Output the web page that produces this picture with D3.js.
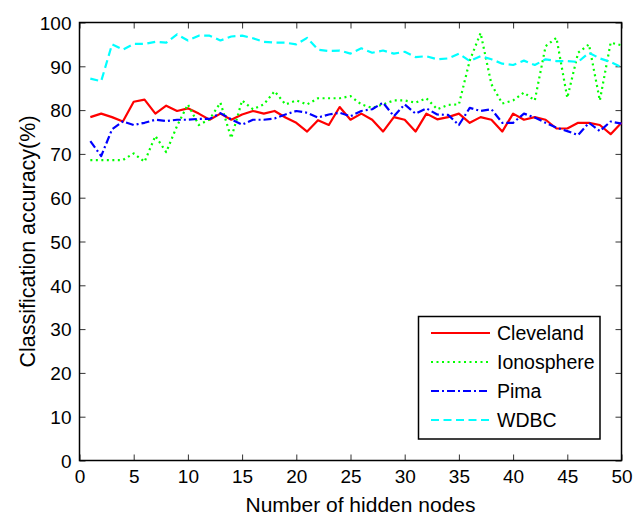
<!DOCTYPE html>
<html>
<head>
<meta charset="utf-8">
<script src="https://cdn.jsdelivr.net/npm/d3@7/dist/d3.min.js"></script>
<style>
  html, body { margin: 0; padding: 0; background: #fff; }
  svg { display: block; font-family: "Liberation Sans", Arial, sans-serif; }
</style>
</head>
<body>
<svg id="chart" width="644" height="517"></svg>
<script>
// ─── data ──────────────────────────────────────────────────────
const nodes = d3.range(1, 51);

const cleveland = [78.4, 79.2, 78.4, 77.4, 81.9, 82.4, 79.2, 81.0, 79.8, 80.4,
  79.2, 77.8, 79.2, 77.8, 79.0, 79.8, 79.2, 79.8, 78.3, 77.1,
  75.1, 77.7, 76.6, 80.7, 77.8, 79.2, 77.8, 75.1, 78.4, 77.8,
  75.1, 79.2, 77.9, 78.4, 79.2, 77.1, 78.4, 77.8, 75.1, 79.2,
  77.8, 78.4, 77.8, 75.8, 75.8, 77.1, 77.1, 76.6, 74.5, 77.1];

const ionosphere = [68.6, 68.6, 68.6, 68.6, 70.1, 68.2, 74.1, 70.4, 76.4, 81.3,
  76.6, 77.9, 81.7, 73.6, 82.2, 80.2, 81.3, 84.3, 81.3, 82.2,
  81.3, 82.7, 82.7, 82.7, 83.2, 81.3, 80.5, 81.3, 82.2, 82.2,
  81.7, 82.7, 80.2, 81.2, 81.3, 91.3, 97.6, 85.9, 81.5, 82.2,
  84.0, 82.2, 94.6, 96.5, 82.8, 93.1, 95.0, 82.2, 95.4, 94.8];

const pima = [72.9, 69.5, 75.6, 77.4, 76.6, 77.1, 77.8, 77.5, 77.8, 77.8,
  78.0, 78.0, 79.3, 77.9, 76.7, 77.8, 77.8, 78.1, 79.0, 79.8,
  79.4, 78.3, 79.0, 79.4, 78.6, 79.8, 80.2, 81.7, 78.6, 81.3,
  79.2, 80.4, 79.0, 78.9, 76.6, 80.5, 79.8, 80.2, 77.1, 77.1,
  79.2, 78.3, 77.1, 76.0, 75.2, 74.3, 77.1, 75.2, 77.4, 76.9];

const wdbc = [87.2, 86.6, 95.0, 93.8, 95.1, 95.1, 95.6, 95.4, 97.3, 95.9,
  97.0, 97.0, 95.9, 96.8, 97.0, 96.4, 95.6, 95.4, 95.4, 95.0,
  96.5, 93.8, 93.5, 93.6, 92.9, 94.1, 93.1, 93.6, 92.9, 93.3,
  92.1, 92.3, 91.6, 91.8, 92.9, 91.2, 92.3, 91.6, 90.6, 90.3,
  91.3, 90.3, 91.6, 91.2, 91.2, 91.0, 93.1, 91.8, 91.0, 89.8];

const seriesNames = ['Cleveland', 'Ionosphere', 'Pima', 'WDBC'];
const xTicks = d3.range(0, 51, 5);
const yTicks = d3.range(0, 101, 10);

// line styles per series
const styles = {
  Cleveland:  { color: '#ff0000', dash: null },
  Ionosphere: { color: '#00ff00', dash: '2,3.5' },
  Pima:       { color: '#0000ff', dash: '8,3,2,3' },
  WDBC:       { color: '#00ffff', dash: '8,4.5' }
};

const series = [
  { name: 'Cleveland', values: cleveland },
  { name: 'Ionosphere', values: ionosphere },
  { name: 'Pima', values: pima },
  { name: 'WDBC', values: wdbc }
];

// ─── layout ────────────────────────────────────────────────────
const margin = { left: 79.5, top: 22.5, right: 644 - 621.5, bottom: 517 - 460.5 };
const W = 644, H = 517;
const svg = d3.select('#chart');

const x = d3.scaleLinear().domain([0, 50]).range([margin.left, W - margin.right]);
const y = d3.scaleLinear().domain([0, 100]).range([H - margin.bottom, margin.top]);

// axes (ticks inward, mirrored on top/right like matlab)
const tickLen = 6;
const fontSize = 19;

const gx = svg.append('g').attr('transform', `translate(0,${y(0)})`)
  .call(d3.axisBottom(x).tickValues(xTicks).tickSize(-tickLen).tickPadding(9).tickFormat(d3.format('d')));
const gxTop = svg.append('g').attr('transform', `translate(0,${y(100)})`)
  .call(d3.axisTop(x).tickValues(xTicks).tickSize(-tickLen).tickFormat(''));
const gy = svg.append('g').attr('transform', `translate(${x(0)},0)`)
  .call(d3.axisLeft(y).tickValues(yTicks).tickSize(-tickLen).tickPadding(8).tickFormat(d3.format('d')));
const gyRight = svg.append('g').attr('transform', `translate(${x(50)},0)`)
  .call(d3.axisRight(y).tickValues(yTicks).tickSize(-tickLen).tickFormat(''));

[gx, gxTop, gy, gyRight].forEach(g => {
  g.select('.domain').remove();
  g.selectAll('.tick line').attr('stroke', '#333').attr('stroke-width', 1);
  g.selectAll('.tick text').attr('fill', '#000').style('font-size', fontSize + 'px')
    .style('font-family', '"Liberation Sans", Arial, sans-serif');
});
gy.selectAll('.tick text').attr('dy', '0.36em');

// frame
svg.append('rect')
  .attr('x', x(0)).attr('y', y(100))
  .attr('width', x(50) - x(0)).attr('height', y(0) - y(100))
  .attr('fill', 'none').attr('stroke', '#000').attr('stroke-width', 1.5);

// axis titles
svg.append('text')
  .attr('x', (x(0) + x(50)) / 2 + 10).attr('y', 512)
  .attr('text-anchor', 'middle').style('font-size', '21px')
  .text('Number of hidden nodes');

svg.append('text')
  .attr('transform', `translate(35,${(y(0) + y(100)) / 2}) rotate(-90)`)
  .attr('text-anchor', 'middle').style('font-size', '21.5px')
  .text('Classification accuracy(%)');

// ─── lines ─────────────────────────────────────────────────────
const line = d3.line().x((d, i) => x(nodes[i])).y(d => y(d));

svg.append('g').selectAll('path')
  .data(series)
  .enter().append('path')
  .attr('d', d => line(d.values))
  .attr('fill', 'none')
  .attr('stroke', d => styles[d.name].color)
  .attr('stroke-width', 2.2)
  .attr('stroke-dasharray', d => styles[d.name].dash)
  .attr('stroke-linejoin', 'round');

// ─── legend ────────────────────────────────────────────────────
const legend = svg.append('g');
legend.append('rect')
  .attr('x', 418.5).attr('y', 316.5).attr('width', 181.5).attr('height', 122.5)
  .attr('fill', '#fff').attr('stroke', '#000').attr('stroke-width', 1.5);

const rows = legend.selectAll('g.row')
  .data(seriesNames)
  .enter().append('g')
  .attr('class', 'row')
  .attr('transform', (d, i) => `translate(0,${333 + i * 29})`);

rows.append('line')
  .attr('x1', 431).attr('x2', 490)
  .attr('stroke', d => styles[d].color)
  .attr('stroke-width', 2.2)
  .attr('stroke-dasharray', d => styles[d].dash);

rows.append('text')
  .attr('x', 497).attr('dy', '0.36em')
  .style('font-size', '19.5px')
  .text(d => d);
</script>
</body>
</html>
